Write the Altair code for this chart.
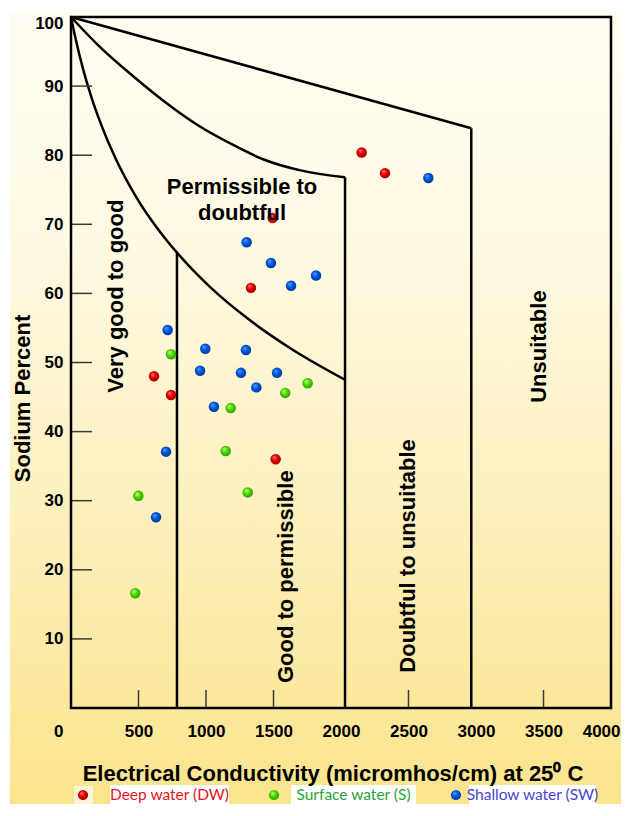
import altair as alt
import pandas as pd

# ---------------- data ----------------
# Deep water (DW)
dw_ec = [2153, 2326, 1494, 1333, 615, 741, 1516]
dw_na = [80.4, 77.4, 70.9, 60.8, 48.0, 45.3, 36.0]
# Shallow water (SW)
sw_ec = [2647, 1301, 1481, 1630, 1815, 716, 995, 1296, 956, 1259, 1526, 1373, 1059, 704, 630]
sw_na = [76.7, 67.4, 64.4, 61.1, 62.6, 54.7, 52.0, 51.8, 48.8, 48.5, 48.5, 46.4, 43.6, 37.1, 27.6]
# Surface water (S)
s_ec = [741, 1753, 1587, 1183, 1146, 1309, 499, 476]
s_na = [51.2, 47.0, 45.6, 43.4, 37.2, 31.2, 30.7, 16.6]

# class boundary curves (Wilcox diagram)
inner_ec = [0, 37, 89, 148, 222, 333, 481, 667, 785, 1037, 1333, 1630, 2030]
inner_na = [100, 96.6, 92.5, 88.6, 84.5, 79.4, 74.0, 68.7, 65.9, 60.8, 56.0, 52.0, 47.5]
middle_ec = [0, 202, 450, 696, 943, 1190, 1437, 1700, 2030]
middle_na = [100, 95.9, 91.6, 87.7, 84.3, 81.6, 79.3, 77.8, 76.8]
outer_ec = [0, 2965]
outer_na = [100, 83.9]
# vertical boundaries
vline_ec = [785, 2030, 2965]
vline_top = [65.9, 76.8, 83.9]

# axis ticks
x_labels = [0, 500, 1000, 1500, 2000, 2500, 3000, 3500, 4000]
y_labels = [10, 20, 30, 40, 50, 60, 70, 80, 90, 100]
x_inner_ticks = [500, 1000, 1500, 2500, 3500]
y_inner_ticks = [10, 20, 30, 40, 50, 60, 70, 80, 90]

# region labels
rot_labels = ["Very good to good", "Good to permissible", "Doubtful to unsuitable", "Unsuitable"]
rot_ec = [331, 1596, 2496, 3467]
rot_na = [59.6, 19.0, 22.0, 52.3]
hor_label = "Permissible to\ndoubtful"
hor_ec = [1267]
hor_na = [76.9]

legend_labels = ["Deep water (DW)", "Surface water (S)", "Shallow water (SW)"]
legend_text_colors = ["#E8141B", "#2AA33B", "#4646CF"]

# ---------------- styling ----------------
W, H = 540, 691
F = "Liberation Sans"
xs = alt.Scale(domain=[0, 4000], nice=False, zero=False)
ys = alt.Scale(domain=[0, 100], nice=False, zero=False)

xaxis = alt.Axis(
    values=x_labels, format="d", ticks=False, tickSize=0, domain=False, grid=False,
    labelFont=F, labelFontSize=17, labelFontWeight="bold", labelColor="black",
    labelPadding=15, labelFlush=False,
    labelAlign={"condition": {"test": "datum.value == 0 || datum.value == 4000", "value": "right"},
                "value": "center"},
    labelOffset={"condition": [{"test": "datum.value == 0", "value": -8},
                               {"test": "datum.value == 4000", "value": 9}],
                 "value": 0},
    title="Electrical Conductivity (micromhos/cm) at 25\u2070 C",
    titleFont=F, titleFontSize=22, titleFontWeight="bold", titleColor="black",
    titleX=261.5, titleY=72, titleBaseline="alphabetic", titleAlign="center", zindex=1,
)
yaxis = alt.Axis(
    values=y_labels, ticks=False, tickSize=0, domain=False, grid=False,
    labelFont=F, labelFontSize=17, labelFontWeight="bold", labelColor="black",
    labelPadding=8,
    labelOffset={"condition": {"test": "datum.value == 100", "value": 6}, "value": 0},
    title="Sodium Percent", titleFont=F, titleFontSize=22, titleFontWeight="bold",
    titleColor="black", titleX=-42, titleY=381, titleAngle=270, titleAlign="center",
    titleBaseline="alphabetic", zindex=1,
)


def X(f):
    return alt.X(f, scale=xs, axis=xaxis)


def Y(f):
    return alt.Y(f, scale=ys, axis=yaxis)


def radial(light, mid, dark):
    return alt.RadialGradient(
        gradient="radial",
        stops=[alt.GradientStop(offset=0, color=light),
               alt.GradientStop(offset=0.45, color=mid),
               alt.GradientStop(offset=1, color=dark)],
        x1=0.35, y1=0.3, r1=0, x2=0.5, y2=0.5, r2=0.6,
    )


grad_red = radial("#FF8080", "#E50000", "#8C0000")
grad_green = radial("#C8FF90", "#4CDD00", "#2A8A00")
grad_blue = radial("#5AA5FF", "#0058E0", "#00308C")

one = pd.DataFrame({"k": [0]})

bg = alt.Chart(one).mark_rect(
    fill=alt.LinearGradient(
        gradient="linear",
        stops=[alt.GradientStop(offset=0, color="#FFFDF3"),
               alt.GradientStop(offset=0.35, color="#FEF8DE"),
               alt.GradientStop(offset=0.7, color="#FCEEB4"),
               alt.GradientStop(offset=1, color="#FAE48C")],
        x1=0, x2=0, y1=0, y2=1,
    )
).encode(x=alt.value(-61), x2=alt.value(550), y=alt.value(-4), y2=alt.value(787))

curves = pd.DataFrame({
    "ec": inner_ec + middle_ec + outer_ec,
    "na": inner_na + middle_na + outer_na,
    "curve": ["inner"] * len(inner_ec) + ["middle"] * len(middle_ec) + ["outer"] * len(outer_ec),
})
lines = alt.Chart(curves).mark_line(color="black", strokeWidth=2.5, interpolate="monotone").encode(
    x=X("ec:Q"), y=Y("na:Q"), detail="curve:N")

vrules = alt.Chart(pd.DataFrame({"ec": vline_ec, "top": vline_top})).transform_calculate(
    zero="0").mark_rule(color="black", strokeWidth=2.5).encode(
    x=X("ec:Q"), y=Y("top:Q"), y2="zero:Q")

ytk = alt.Chart(pd.DataFrame({"v": y_inner_ticks})).mark_rule(color="#3a3a3a", strokeWidth=1.5).encode(
    y=Y("v:Q"), x=alt.value(0), x2=alt.value(21))
xtk = alt.Chart(pd.DataFrame({"v": x_inner_ticks})).mark_rule(color="#3a3a3a", strokeWidth=1.5).encode(
    x=X("v:Q"), y=alt.value(H - 18), y2=alt.value(H))

frame = alt.Chart(one).mark_rect(filled=False, stroke="black", strokeWidth=2.5).encode(
    x=alt.value(0), x2=alt.value(W), y=alt.value(0), y2=alt.value(H))


def pts(ec, na, grad):
    return alt.Chart(pd.DataFrame({"ec": ec, "na": na})).mark_circle(
        size=110, opacity=1, fill=grad).encode(x=X("ec:Q"), y=Y("na:Q"))


p_dw = pts(dw_ec, dw_na, grad_red)
p_s = pts(s_ec, s_na, grad_green)
p_sw = pts(sw_ec, sw_na, grad_blue)

rot = alt.Chart(pd.DataFrame({"label": rot_labels, "ec": rot_ec, "na": rot_na})).mark_text(
    angle=270, font=F, fontSize=22, fontWeight="bold", color="black",
    align="center", baseline="middle").encode(x=X("ec:Q"), y=Y("na:Q"), text="label:N")
hor = alt.Chart(pd.DataFrame({"label": [hor_label], "ec": hor_ec, "na": hor_na})).mark_text(
    font=F, fontSize=22, fontWeight="bold", color="black", align="center",
    baseline="top", lineBreak="\n", lineHeight=26).encode(x=X("ec:Q"), y=Y("na:Q"), text="label:N")

# legend (drawn as marks so each label gets its own white box and colour)
LY = 780
leg_layers = [alt.Chart(one).mark_rect(fill="#FBF3DA").encode(
    x=alt.value(3), x2=alt.value(22), y=alt.value(LY - 11), y2=alt.value(LY + 7))]
leg_grads = [grad_red, grad_green, grad_blue]
circle_x = [12, 203, 385]
box_x = [(39, 158), (220, 345), (398, 525)]
for i, lab in enumerate(legend_labels):
    bx0, bx1 = box_x[i]
    leg_layers.append(alt.Chart(one).mark_rect(fill="white").encode(
        x=alt.value(bx0), x2=alt.value(bx1), y=alt.value(LY - 12), y2=alt.value(LY + 7)))
    leg_layers.append(alt.Chart(one).mark_circle(size=105, opacity=1, fill=leg_grads[i]).encode(
        x=alt.value(circle_x[i]), y=alt.value(LY - 2)))
    leg_layers.append(alt.Chart(one).mark_text(
        font="Lato", fontSize=15.5, color=legend_text_colors[i],
        align="center", baseline="middle").encode(
        x=alt.value((bx0 + bx1) / 2), y=alt.value(LY - 2), text=alt.value(lab)))

chart = alt.layer(
    bg, *leg_layers, lines, vrules, ytk, xtk, frame, p_dw, p_s, p_sw, rot, hor
).properties(
    width=W, height=H,
    autosize=alt.AutoSizeParams(type="none"),
    padding={"left": 63, "top": 9, "right": 10, "bottom": 96},
    background="white",
).configure_view(stroke="transparent")

chart.save("out.html", embed_options={"renderer": "svg", "actions": False})
